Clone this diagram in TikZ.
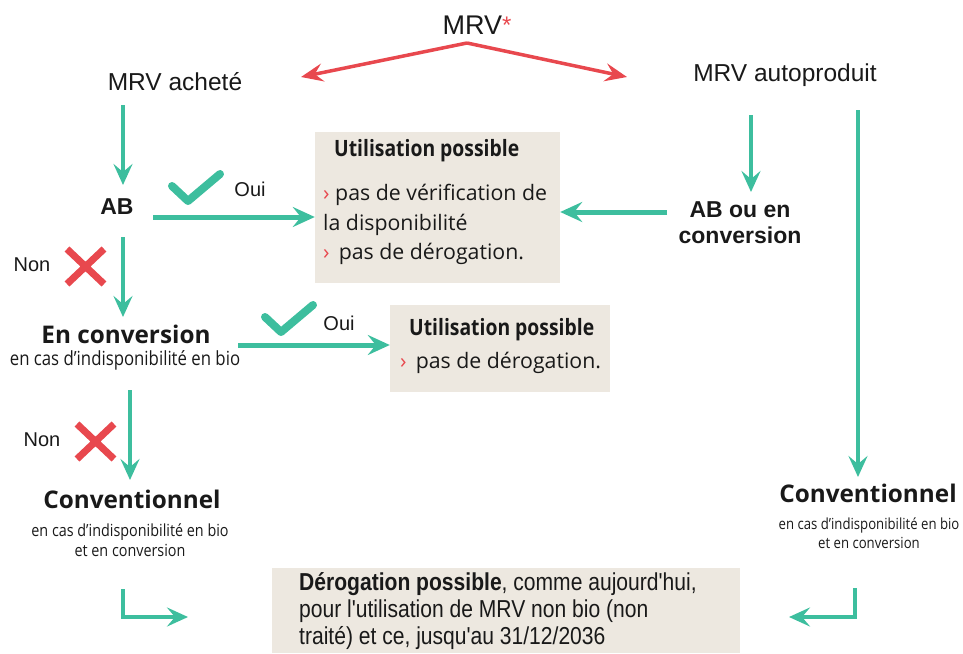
\documentclass[tikz,border=0pt]{standalone}
\usepackage{fontspec}
\setmainfont{Liberation Sans}
\newfontfamily\os{Open Sans}
\newfontfamily\osc[FakeStretch=0.86]{Open Sans}
\newfontfamily\lsn[FakeStretch=0.86]{Liberation Sans}
\usetikzlibrary{arrows.meta}
\definecolor{grn}{RGB}{61,190,158}
\definecolor{rd}{RGB}{232,72,78}
\definecolor{beige}{RGB}{237,232,224}
\definecolor{ink}{RGB}{25,25,25}
\begin{document}
\begin{tikzpicture}[x=1pt,y=-1pt,
  every node/.style={inner sep=0pt, text=ink},
  lbl/.style={font=\fontsize{24.5}{28}\selectfont},
  yn/.style={font=\fontsize{20}{24}\selectfont},
  hd/.style={font=\os\bfseries\fontsize{24.3}{28}\selectfont},
  hda/.style={font=\bfseries\fontsize{23}{27}\selectfont, align=center},
  subA/.style={font=\osc\fontsize{19.5}{22}\selectfont},
  subB/.style={font=\osc\fontsize{16.7}{20}\selectfont, align=center},
  subC/.style={font=\osc\fontsize{15.3}{19}\selectfont, align=center},
  btitle/.style={font=\osc\bfseries\fontsize{22.5}{24}\selectfont, anchor=base west},
  btext/.style={font=\os\fontsize{21.3}{24}\selectfont, anchor=base west},
  dtext/.style={font=\lsn\fontsize{24.5}{26}\selectfont, anchor=base west},
  gar/.style={draw=grn, line width=4pt, -{Stealth[length=21pt,width=19pt,inset=8pt]}},
  garh/.style={draw=grn, line width=5pt, -{Stealth[length=22pt,width=20pt,inset=8pt]}},
  rar/.style={draw=rd, line width=3.5pt, -{Stealth[length=22pt,width=18pt,inset=8pt]}},
  box/.style={fill=beige, draw=none},
  chk/.style={draw=grn, line width=8pt, line cap=round, line join=round},
  xm/.style={draw=rd, line width=7pt}
]
\useasboundingbox (0,0) rectangle (963,653);

% boxes
\path[box] (315,132) rectangle (560,283);
\node[inner sep=0pt, minimum width=245pt, minimum height=151pt] (b1) at (437.5,207.5) {};
\path[box] (390,305) rectangle (610,392);
\node[inner sep=0pt, minimum width=220pt, minimum height=87pt] (b2) at (500,348.5) {};
\path[box] (272,568) rectangle (740,653);
\node[inner sep=0pt, minimum width=468pt, minimum height=85pt] (b3) at (506,610.5) {};

% box texts
\node[btitle] (b1t) at (334,156) {Utilisation possible};
\node[btext] (b1a) at (323,200) {\textcolor{rd}{›} pas de vérification de};
\node[btext] (b1b) at (323,230) {la disponibilité};
\node[btext] (b1c) at (323,259) {\textcolor{rd}{›} \,pas de dérogation.};
\node[btitle] (b2t) at (409,335) {Utilisation possible};
\node[btext] (b2a) at (400,368) {\textcolor{rd}{›} \,pas de dérogation.};
\node[dtext] (b3a) at (299,590) {\textbf{Dérogation possible}, comme aujourd'hui,};
\node[dtext] (b3b) at (299,617) {pour l'utilisation de MRV non bio (non};
\node[dtext] (b3c) at (299,644) {traité) et ce, jusqu'au 31/12/2036};

% helper coordinates
\coordinate (y217) at (0,217);
\coordinate (y345) at (0,345);
\coordinate (y212) at (0,212);

% top
\node[font=\fontsize{27}{30}\selectfont] (mrv) at (477,25) {MRV\raisebox{1pt}{\textcolor{rd}{\fontsize{24}{24}\selectfont*}}};
\coordinate (apex) at (467,43);
\node[lbl] (ach) at (175,82) {MRV acheté};
\node[lbl] (auto) at (785,75) {MRV autoproduit};
\coordinate (rl) at (301,77);
\coordinate (rr) at (627,77);
\draw[rar] (apex) -- (rl);
\draw[rar] (apex) -- (rr);

% left column
\node[hda] (ab) at (117,207) {AB};
\coordinate (a1s) at (123,105);
\coordinate (a1e) at (123,185);
\draw[gar] (a1s) -- (a1e);
\coordinate (h1s) at (153,217);
\draw[garh] (h1s) -- (b1.west |- y217);
\draw[chk] (172,186) -- (188,201) -- (220,174);
\node[yn] (oui1) at (250,189) {Oui};

\coordinate (a2s) at (123,237);
\coordinate (a2e) at (123,317);
\draw[gar] (a2s) -- (a2e);
\node[yn] (non1) at (32,265) {Non};
\draw[xm] (67,249) -- (104,284) (104,249) -- (67,284);

\node[hd] (enc) at (126,334) {En conversion};
\node[subA] (encs) at (125,360) {en cas d’indisponibilité en bio};
\coordinate (h2s) at (238,345);
\draw[garh] (h2s) -- (b2.west |- y345);
\draw[chk] (265,317) -- (281,332) -- (313,305);
\node[yn] (oui2) at (339,323) {Oui};

\coordinate (a3s) at (130,390);
\coordinate (a3e) at (130,480);
\draw[gar] (a3s) -- (a3e);
\node[yn] (non2) at (42,440) {Non};
\draw[xm] (77,424) -- (114,459) (114,424) -- (77,459);

\node[hd] (conv1) at (132,499) {Conventionnel};
\node[subB] (conv1s) at (130,540) {en cas d’indisponibilité en bio\\et en conversion};
\coordinate (l1s) at (123,589);
\coordinate (l1c) at (123,617);
\coordinate (l1e) at (188,617);
\draw[gar] (l1s) -- (l1c) -- (l1e);

% right column
\coordinate (r1s) at (751,115);
\coordinate (r1e) at (751,192);
\draw[gar] (r1s) -- (r1e);
\node[hda] (aboc) at (740,223) {AB ou en\\[-1pt]conversion};
\coordinate (h3s) at (667,212);
\draw[garh] (h3s) -- (b1.east |- y212);
\coordinate (r2s) at (858,110);
\coordinate (r2e) at (858,477);
\draw[gar] (r2s) -- (r2e);
\node[hd] (conv2) at (868,493) {Conventionnel};
\node[subC] (conv2s) at (869,533) {en cas d’indisponibilité en bio\\et en conversion};
\coordinate (l2s) at (855,588);
\coordinate (l2c) at (855,617);
\coordinate (l2e) at (789,617);
\draw[gar] (l2s) -- (l2c) -- (l2e);
\end{tikzpicture}
\end{document}
